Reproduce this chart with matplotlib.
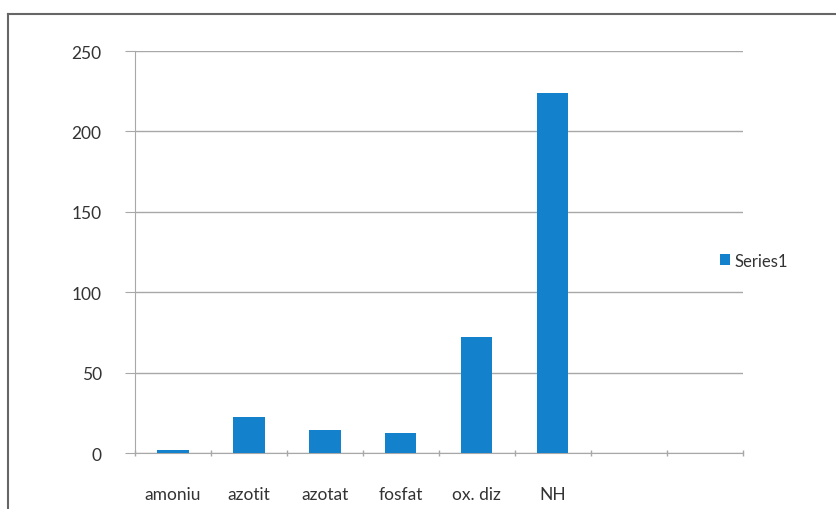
import matplotlib.pyplot as plt
from matplotlib.lines import Line2D
from matplotlib.patches import Patch

# --- data ---
categories = ["amoniu", "azotit", "azotat", "fosfat", "ox. diz", "NH"]
values = [2, 22.5, 14.5, 12.2, 72, 224]
n_slots = 8  # two empty category slots at the end
y_ticks = [0, 50, 100, 150, 200, 250]
series_name = "Series1"

BAR_COLOR = "#1381cc"
GRID_COLOR = "#a8a8a8"
TEXT_COLOR = "#333333"

plt.rcParams["font.family"] = ["Lato", "DejaVu Sans"]

fig = plt.figure(figsize=(8.36, 5.10), dpi=100)
ax = fig.add_axes([0.1615, 0.1098, 0.727, 0.788])

x = list(range(len(categories)))
ax.bar(x, values, width=0.41, color=BAR_COLOR, zorder=3)

ax.set_xlim(-0.5, n_slots - 0.5)
ax.set_ylim(0, 250)

# category labels centred, tick marks on the boundaries
labels = categories + [""] * (n_slots - len(categories))
ax.set_xticks(range(n_slots))
ax.set_xticklabels(labels, fontsize=12.5, color=TEXT_COLOR)
ax.tick_params(axis="x", length=0, pad=24)
ax.set_xticks([i - 0.5 for i in range(n_slots + 1)], minor=True)
ax.tick_params(axis="x", which="minor", length=5, direction="inout",
               color=GRID_COLOR, width=1)

ax.set_yticks(y_ticks)
ax.set_yticklabels([str(v) for v in y_ticks], fontsize=12.5, color=TEXT_COLOR)
ax.tick_params(axis="y", length=7, color=GRID_COLOR, pad=17)

ax.grid(axis="y", color=GRID_COLOR, linewidth=1, zorder=0)
ax.set_axisbelow(True)

for side in ["top", "right"]:
    ax.spines[side].set_visible(False)
ax.spines["left"].set_color(GRID_COLOR)
ax.spines["bottom"].set_color(GRID_COLOR)

handle = Patch(facecolor=BAR_COLOR, edgecolor="none")
fig.legend([handle], [series_name], loc="center left",
           bbox_to_anchor=(0.843, 0.487), frameon=False,
           fontsize=12, handlelength=0.6, handleheight=0.6,
           handletextpad=0.3, labelcolor=TEXT_COLOR)

# outer chart frame (top and left edges visible)
fig.add_artist(Line2D([0.009, 1.0], [0.971, 0.971], color="#666666", linewidth=1.5,
                      transform=fig.transFigure))
fig.add_artist(Line2D([0.009, 0.009], [0.0, 0.971], color="#666666", linewidth=1.5,
                      transform=fig.transFigure))

fig.savefig("out.png", dpi=100)
